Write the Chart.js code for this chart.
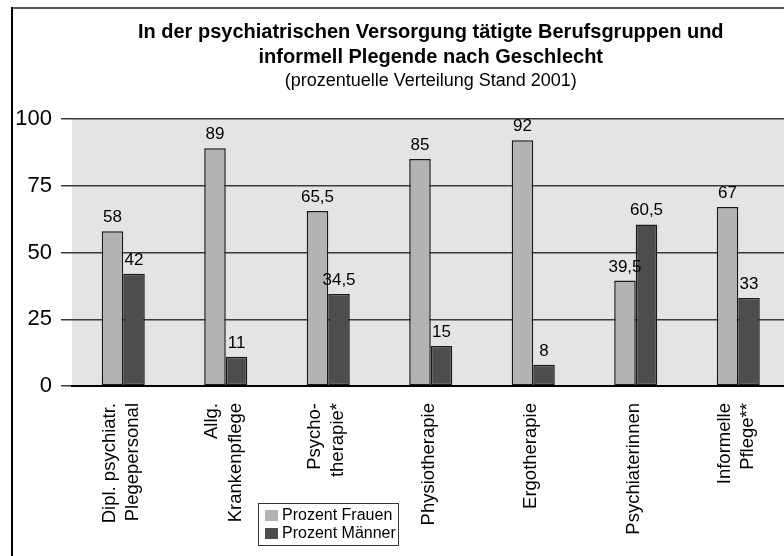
<!DOCTYPE html>
<html>
<head>
<meta charset="utf-8">
<script src="https://cdn.jsdelivr.net/npm/chart.js@4"></script>
<style>
  html, body { margin: 0; padding: 0; background: #fff; overflow: hidden; }
  #wrap { width: 784px; height: 556px; overflow: hidden; position: relative; }
</style>
</head>
<body>
<div id="wrap"><canvas id="chart" width="800" height="556"></canvas></div>
<script>
const FONT = '"Liberation Sans", Arial, sans-serif';

const categories = [
    ["Dipl. psychiatr.", "Plegepersonal"],
    ["Allg.", "Krankenpflege"],
    ["Psycho-", "therapie*"],
    ["Physiotherapie"],
    ["Ergotherapie"],
    ["Psychiaterinnen"],
    ["Informelle", "Pflege**"]
];
const frauen = [58, 89, 65.5, 85, 92, 39.5, 67];
const maenner = [42, 11, 34.5, 15, 8, 60.5, 33];
const yTicks = [0, 25, 50, 75, 100];

const titleLines = [
    "In der psychiatrischen Versorgung tätigte Berufsgruppen und",
    "informell Plegende nach Geschlecht"
];
const subTitle = "(prozentuelle Verteilung Stand 2001)";

// Rahmen, Hintergrund der Zeichenfläche, Titel
const backdrop = {
    id: "backdrop",
    beforeDraw(chart) {
        const ctx = chart.ctx;
        const a = chart.chartArea;
        ctx.save();
        ctx.fillStyle = "#e4e4e4";
        ctx.fillRect(a.left, a.top, a.right - a.left, a.bottom - a.top);
        ctx.lineWidth = 2;
        ctx.strokeStyle = "#5a5a5a";
        ctx.beginPath();
        ctx.moveTo(11, 8);
        ctx.lineTo(chart.width, 8);
        ctx.stroke();
        ctx.strokeStyle = "#000";
        ctx.beginPath();
        ctx.moveTo(12, 7);
        ctx.lineTo(12, chart.height);
        ctx.stroke();

        let cx = (a.left + a.right) / 2;
        ctx.fillStyle = "#000";
        ctx.textAlign = "center";
        ctx.textBaseline = "middle";
        ctx.font = "bold 20px " + FONT;
        ctx.fillText(titleLines[0], cx, 32);
        ctx.fillText(titleLines[1], cx, 57);
        ctx.font = "18px " + FONT;
        ctx.fillText(subTitle, cx, 81);
        ctx.restore();
    }
};

// Werte über den Balken, gedrehte Kategorien, Legende
const labels = {
    id: "labels",
    afterDatasetsDraw(chart) {
        const ctx = chart.ctx;
        ctx.save();
        ctx.fillStyle = "#000";
        ctx.font = "17px " + FONT;
        ctx.textAlign = "center";
        ctx.textBaseline = "alphabetic";
        chart.data.datasets.forEach((ds, di) => {
            chart.getDatasetMeta(di).data.forEach((bar, i) => {
                let txt = String(ds.data[i]).replace(".", ",");
                ctx.fillText(txt, bar.x, bar.y - 9);
            });
        });

        const xs = chart.scales.x;
        ctx.font = "18.5px " + FONT;
        ctx.textAlign = "right";
        ctx.textBaseline = "middle";
        categories.forEach((lines, i) => {
            let px = xs.getPixelForTick(i) - 2;
            lines.forEach((line, j) => {
                let off = (j - (lines.length - 1) / 2) * 23.5;
                ctx.save();
                ctx.translate(px + off, 403);
                ctx.rotate(-Math.PI / 2);
                ctx.fillText(line, 0, 0);
                ctx.restore();
            });
        });

        // Legende
        let lx = 258, ly = 503;
        ctx.fillStyle = "#fff";
        ctx.fillRect(lx, ly, 140, 42);
        ctx.strokeStyle = "#333";
        ctx.lineWidth = 1;
        ctx.strokeRect(lx + 0.5, ly + 0.5, 140, 42);
        ctx.font = "16px " + FONT;
        ctx.textAlign = "left";
        chart.data.datasets.forEach((ds, di) => {
            let y = ly + 7 + di * 18;
            ctx.fillStyle = ds.backgroundColor;
            ctx.fillRect(lx + 7, y, 13, 11);
            ctx.fillStyle = "#000";
            ctx.fillText(ds.label, lx + 24, y + 6);
        });
        ctx.restore();
    }
};

new Chart(document.getElementById("chart"), {
    type: "bar",
    data: {
        labels: categories,
        datasets: [
            {
                label: "Prozent Frauen",
                data: frauen,
                backgroundColor: "#b3b3b3",
                borderColor: "#1a1a1a",
                borderWidth: 1.5,
                borderSkipped: false,
                categoryPercentage: 0.42,
                barPercentage: 1.0
            },
            {
                label: "Prozent Männer",
                data: maenner,
                backgroundColor: "#4d4d4d",
                borderColor: "#1a1a1a",
                borderWidth: 1.5,
                borderSkipped: false,
                categoryPercentage: 0.42,
                barPercentage: 1.0
            }
        ]
    },
    options: {
        responsive: false,
        animation: false,
        devicePixelRatio: 1,
        layout: { padding: { top: 119, right: 10.5, left: 0, bottom: 0 } },
        plugins: {
            legend: { display: false },
            title: { display: false },
            tooltip: { enabled: false }
        },
        scales: {
            x: {
                ticks: { display: false },
                grid: { display: false },
                border: { display: true, color: "#000", width: 2 },
                afterFit(scale) { scale.height = 170; }
            },
            y: {
                min: 0,
                max: 100,
                afterBuildTicks(scale) { scale.ticks = yTicks.map(v => ({ value: v })); },
                ticks: {
                    color: "#000",
                    font: { family: FONT, size: 22 },
                    padding: 9
                },
                grid: {
                    color: "#3a3a3a",
                    lineWidth: 1.5,
                    tickLength: 11
                },
                border: { display: false },
                afterFit(scale) { scale.width = 72; }
            }
        }
    },
    plugins: [backdrop, labels]
});
</script>
</body>
</html>
